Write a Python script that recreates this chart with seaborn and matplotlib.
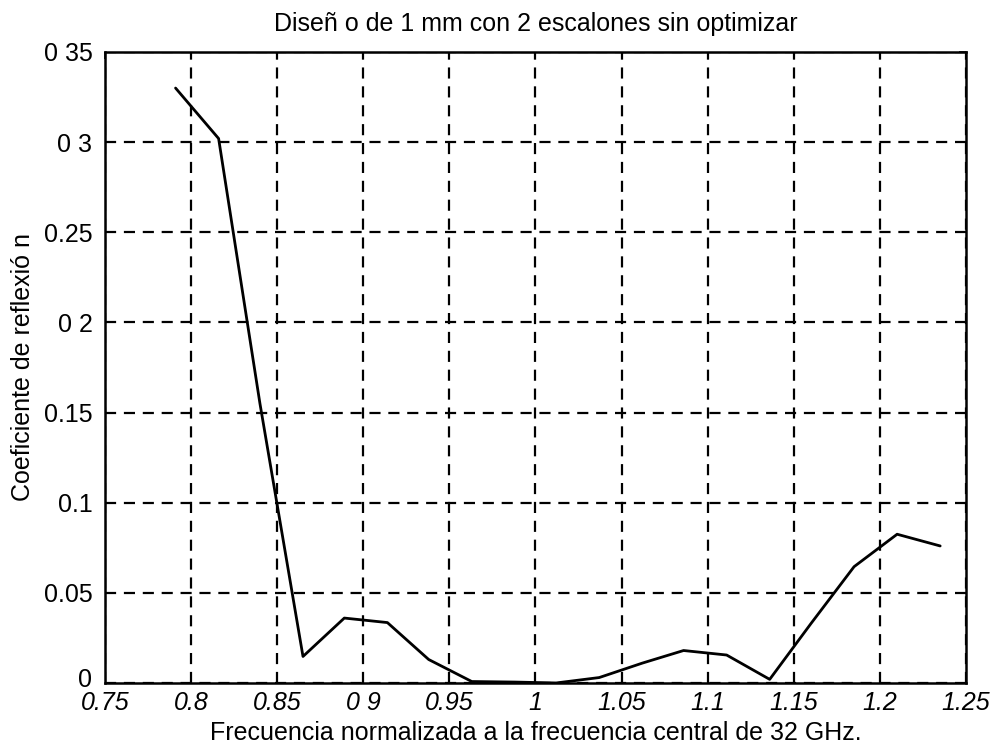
import matplotlib
matplotlib.use("Agg")
import matplotlib.pyplot as plt
import matplotlib.transforms as mtransforms
import seaborn as sns
import pandas as pd

# Normalised frequency (f / 32 GHz) and reflection coefficient magnitude
freq = [0.791, 0.816, 0.840, 0.865, 0.889, 0.914, 0.938, 0.963, 0.988, 1.012,
        1.037, 1.062, 1.086, 1.111, 1.136, 1.160, 1.185, 1.210, 1.235]
refl = [0.330, 0.302, 0.155, 0.0147, 0.036, 0.0335, 0.013, 0.0008, 0.0005, 0.0,
        0.003, 0.011, 0.018, 0.0155, 0.002, 0.033, 0.0645, 0.0825, 0.076]

x_ticks = [0.75, 0.8, 0.85, 0.9, 0.95, 1.0, 1.05, 1.1, 1.15, 1.2, 1.25]
x_tick_labels = ["0.75", "0.8", "0.85", "0 9", "0.95", "1", "1.05", "1.1",
                 "1.15", "1.2", "1.25"]
y_ticks = [0, 0.05, 0.1, 0.15, 0.2, 0.25, 0.3, 0.35]
y_tick_labels = ["0", "0.05", "0.1", "0.15", "0 2", "0.25", "0 3", "0 35"]

title = "Diseñ o de 1 mm con 2 escalones sin optimizar"
x_label = "Frecuencia normalizada a la frecuencia central de 32 GHz."
y_label = "Coeficiente de reflexió n"

sns.set_theme(style="white")
plt.rcParams["font.family"] = ["Liberation Sans", "DejaVu Sans"]
plt.rcParams["text.color"] = "black"
plt.rcParams["axes.labelcolor"] = "black"

df = pd.DataFrame({"freq": freq, "refl": refl})

fig = plt.figure(figsize=(9.92, 7.46), dpi=100)
ax = fig.add_axes([0.1058, 0.0845, 0.868, 0.8458])

sns.lineplot(data=df, x="freq", y="refl", ax=ax, color="black", linewidth=2.0)

ax.set_xlim(0.75, 1.25)
ax.set_ylim(0, 0.35)
ax.set_xticks(x_ticks)
ax.set_xticklabels(x_tick_labels, fontsize=18, style="italic")
ax.set_yticks(y_ticks)
ax.set_yticklabels(y_tick_labels, fontsize=18)
ax.tick_params(direction="in", length=5, width=1.2, color="black",
               labelcolor="black", top=True, right=True)
ax.tick_params(axis="x", pad=6)
ax.tick_params(axis="y", pad=9)

# lift the bottom y label a little so it clears the first x label
zero_lbl = ax.get_yticklabels()[0]
zero_lbl.set_transform(zero_lbl.get_transform() +
                       mtransforms.ScaledTranslation(0, 4 / 72, fig.dpi_scale_trans))

ax.grid(True, color="black", linestyle=(0, (5, 3.5)), linewidth=1.6)
for sp in ax.spines.values():
    sp.set_color("black")
    sp.set_linewidth(1.8)

ax.set_title(title, fontsize=18, pad=15, color="black")
ax.set_xlabel(x_label, fontsize=18, labelpad=4)
ax.set_ylabel(y_label, fontsize=18, labelpad=6)

fig.savefig("out.png", dpi=100, facecolor="white")
